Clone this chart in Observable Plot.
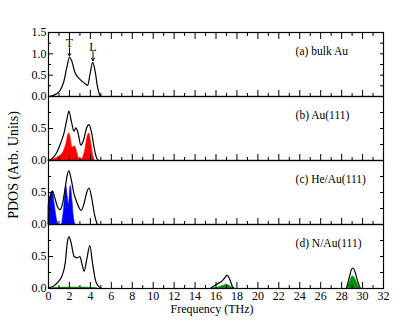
<!DOCTYPE html>
<html><head><meta charset="utf-8">
<script src="https://cdn.jsdelivr.net/npm/d3@7"></script>
<script src="https://cdn.jsdelivr.net/npm/@observablehq/plot@0.6"></script>
<style>
body{margin:0;background:#fff;}
#chart{position:relative;width:415px;height:321px;font-family:"Liberation Serif",serif;background:#fff;}
#chart svg{position:absolute;left:0;top:0;font-family:"Liberation Serif",serif;}
#chart svg text{font-family:"Liberation Serif",serif;}
#ylabel{position:absolute;left:14px;top:165px;transform:translate(-50%,-50%) rotate(-90deg);font-size:14px;white-space:nowrap;color:#000;}
#xlabel{position:absolute;left:212px;top:309px;transform:translate(-50%,-50%);font-size:12px;white-space:nowrap;color:#000;}
</style></head><body>
<div id="chart"><div id="ylabel">PDOS (Arb. Units)</div><div id="xlabel">Frequency (THz)</div></div>
<script>
// ---- data ----
const panelLabels = ["(a) bulk Au", "(b) Au(111)", "(c) He/Au(111)", "(d) N/Au(111)"];
const xMajorTicks = [0, 2, 4, 6, 8, 10, 12, 14, 16, 18, 20, 22, 24, 26, 28, 30, 32];
const xMinorTicks = [1, 3, 5, 7, 9, 11, 13, 15, 17, 19, 21, 23, 25, 27, 29, 31];
const yMajorTicksA = [0, 0.5, 1.0, 1.5];
const yMinorTicksA = [0.25, 0.75, 1.25];
const yRightTicksA = [0.25, 0.5, 0.75, 1.0, 1.25];
const yMajorTicks = [0, 0.5];
const yMinorTicks = [0.25, 0.75];
const yRightTicks = [0.25, 0.5, 0.75];

// (a) bulk Au total PDOS
const freqA = [0, 0.4, 0.8, 1.1, 1.45, 1.75, 2.0, 2.2, 2.5, 2.85, 3.2, 3.5, 3.75, 3.95, 4.22, 4.45, 4.7, 4.9, 5.05];
const pdosA = [0, 0.02, 0.07, 0.14, 0.34, 0.68, 0.92, 0.85, 0.58, 0.44, 0.36, 0.3, 0.26, 0.5, 0.8, 0.6, 0.2, 0.03, 0];
// peak annotations
const annLabels = ["T", "L"];
const annFreq = [2.0, 4.25];
const annTextY = [1.24, 1.15];
const annTipY = [0.95, 0.84];

// (b) Au(111)
const freqB = [0, 0.4, 0.8, 1.2, 1.5, 1.75, 1.95, 2.2, 2.42, 2.62, 2.85, 3.08, 3.35, 3.62, 3.87, 4.12, 4.38, 4.62, 4.82];
const pdosB = [0, 0.04, 0.13, 0.29, 0.44, 0.64, 0.77, 0.6, 0.46, 0.51, 0.41, 0.24, 0.32, 0.5, 0.56, 0.43, 0.18, 0.03, 0];
const freqBsurf = [0, 0.5, 1.0, 1.4, 1.7, 1.95, 2.05, 2.3, 2.55, 2.75, 2.95, 3.2, 3.5, 3.75, 3.88, 4.1, 4.3, 4.42];
const pdosBsurf = [0, 0.02, 0.06, 0.12, 0.25, 0.42, 0.4, 0.2, 0.22, 0.12, 0.02, 0.02, 0.15, 0.38, 0.42, 0.25, 0.05, 0];

// (c) He/Au(111)
const freqC = [0, 0.2, 0.38, 0.6, 0.85, 1.08, 1.35, 1.6, 1.8, 1.95, 2.15, 2.45, 2.7, 2.95, 3.12, 3.4, 3.65, 3.87, 4.12, 4.4, 4.65];
const pdosC = [0.32, 0.45, 0.52, 0.42, 0.28, 0.23, 0.33, 0.58, 0.78, 0.84, 0.72, 0.47, 0.35, 0.25, 0.22, 0.33, 0.5, 0.57, 0.42, 0.15, 0];
const freqCsurf1 = [0, 0.2, 0.4, 0.6, 0.8, 0.95];
const pdosCsurf1 = [0.3, 0.45, 0.52, 0.3, 0.08, 0];
const freqCsurf2 = [1.3, 1.5, 1.7, 1.82, 1.95, 2.12, 2.28, 2.42, 2.55];
const pdosCsurf2 = [0, 0.25, 0.6, 0.45, 0.3, 0.6, 0.38, 0.12, 0];

// (d) N/Au(111)
const freqD = [0, 0.5, 1.0, 1.3, 1.6, 1.8, 1.95, 2.15, 2.45, 2.75, 3.0, 3.2, 3.4, 3.65, 3.95, 4.2, 4.5, 4.8, 5.15,
               15.4, 15.8, 16.2, 16.6, 16.85, 17.05, 17.3, 17.6, 17.8,
               28.4, 28.7, 28.95, 29.1, 29.3, 29.55, 29.85, 32];
const pdosD = [0.01, 0.04, 0.12, 0.2, 0.4, 0.72, 0.81, 0.72, 0.5, 0.48, 0.5, 0.38, 0.27, 0.45, 0.67, 0.4, 0.12, 0.03, 0,
               0, 0.04, 0.08, 0.12, 0.17, 0.21, 0.15, 0.02, 0,
               0, 0.15, 0.3, 0.32, 0.25, 0.1, 0, 0];
const freqDsurf0 = [0.3, 1.0, 2.0, 3.0, 4.0, 4.7];
const pdosDsurf0 = [0, 0.012, 0.015, 0.015, 0.012, 0];
const freqDsurf1 = [15.8, 16.3, 16.8, 17.05, 17.3, 17.7];
const pdosDsurf1 = [0, 0.02, 0.045, 0.06, 0.04, 0];
const freqDsurf2 = [28.5, 28.8, 29.05, 29.3, 29.6, 29.75];
const pdosDsurf2 = [0, 0.1, 0.19, 0.15, 0.04, 0];

// ---- build ----
const rows = (xs, ys) => xs.map((x, i) => ({x, y: ys[i]}));
const W = 415, H = 321, ML = 48, MR = 32, PH = 64;
const FF = "Liberation Serif";
const font = {background: "transparent", fontFamily: "'Liberation Serif', serif", fontSize: "11px", color: "black", overflow: "visible"};

const panels = [
  {top: 32, yMax: 1.5, line: rows(freqA, pdosA), fills: [], major: yMajorTicksA, minor: yMinorTicksA, right: yRightTicksA},
  {top: 96, yMax: 1.0, line: rows(freqB, pdosB), fills: [[rows(freqBsurf, pdosBsurf), "#ff0000"]], major: yMajorTicks, minor: yMinorTicks, right: yRightTicks},
  {top: 160, yMax: 1.0, line: rows(freqC, pdosC), fills: [[rows(freqCsurf1, pdosCsurf1), "#0000ff"], [rows(freqCsurf2, pdosCsurf2), "#0000ff"]], major: yMajorTicks, minor: yMinorTicks, right: yRightTicks},
  {top: 224, yMax: 1.0, line: rows(freqD, pdosD), fills: [[rows(freqDsurf0, pdosDsurf0), "#009000"], [rows(freqDsurf1, pdosDsurf1), "#009000"], [rows(freqDsurf2, pdosDsurf2), "#009000"]], major: yMajorTicks, minor: yMinorTicks, right: yRightTicks}
];

const chart = document.getElementById("chart");
panels.forEach((p, i) => {
  const isBottom = i === panels.length - 1;
  const marks = [];
  p.fills.forEach(([d, c]) => marks.push(Plot.areaY(d, {x: "x", y: "y", fill: c, stroke: c, strokeWidth: 0.6, curve: "monotone-x"})));
  marks.push(Plot.lineY(p.line, {x: "x", y: "y", stroke: "black", strokeWidth: 1.2, curve: "monotone-x"}));
  marks.push(Plot.frame({stroke: "black", strokeWidth: 1.2}));
  marks.push(Plot.axisY(p.major, {anchor: "left", tickSize: -5, tickPadding: 7, tickFormat: d3.format(".1f"), label: null, fontSize: 12, fontFamily: FF}));
  marks.push(Plot.axisY(p.minor, {anchor: "left", tickSize: -3, tickFormat: () => "", label: null}));
  marks.push(Plot.axisY(p.right, {anchor: "right", tickSize: -4, tickFormat: () => "", label: null}));
  marks.push(Plot.axisX(xMajorTicks, {anchor: "bottom", tickSize: -6, tickPadding: 9, tickFormat: isBottom ? (d => String(d)) : (() => ""), label: null, fontSize: 12, fontFamily: FF}));
  marks.push(Plot.axisX(xMinorTicks, {anchor: "bottom", tickSize: -3, tickFormat: () => "", label: null}));
  if (i === 0) {
    marks.push(Plot.axisX(xMajorTicks, {anchor: "top", tickSize: -6, tickFormat: () => "", label: null}));
    marks.push(Plot.axisX(xMinorTicks, {anchor: "top", tickSize: -3, tickFormat: () => "", label: null}));
    marks.push(Plot.arrow(annLabels, {x1: (d, j) => annFreq[j], x2: (d, j) => annFreq[j], y1: (d, j) => annTextY[j] - 0.1, y2: (d, j) => annTipY[j], stroke: "black", strokeWidth: 1, headLength: 5}));
    marks.push(Plot.text(annLabels, {x: (d, j) => annFreq[j], y: (d, j) => annTextY[j], text: d => d, fontSize: 12, fill: "black", fontFamily: FF}));
  }
  marks.push(Plot.text([panelLabels[i]], {x: 23.6, y: p.yMax * 0.7, text: d => d, textAnchor: "start", fontSize: 11.5, fill: "black", fontFamily: FF}));
  const svg = Plot.plot({
    width: W, height: H,
    marginLeft: ML, marginRight: MR, marginTop: p.top, marginBottom: H - p.top - PH,
    x: {domain: [0, 32]},
    y: {domain: [0, p.yMax]},
    style: font,
    marks
  });
  chart.appendChild(svg);
});
</script>
</body></html>
